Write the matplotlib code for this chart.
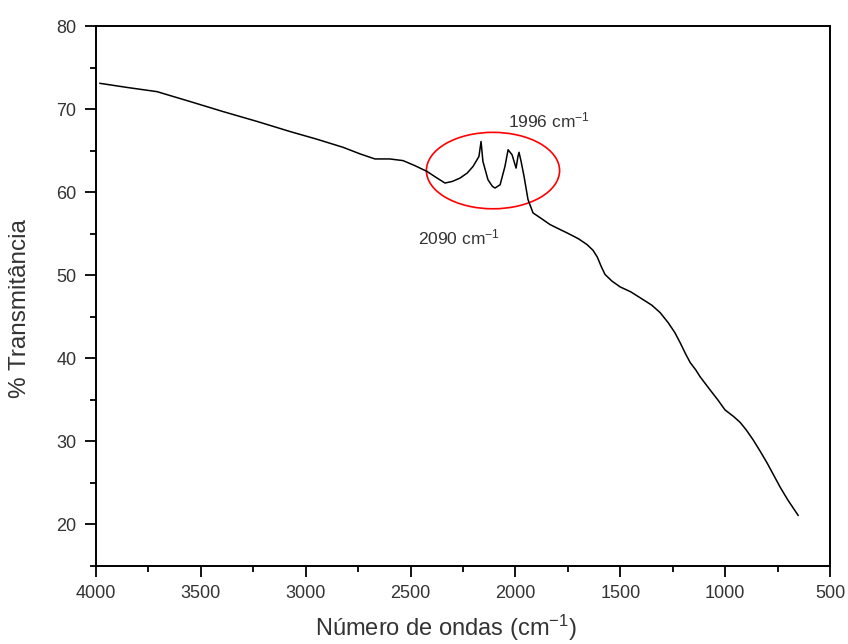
import matplotlib
matplotlib.use("Agg")
import matplotlib.pyplot as plt
from matplotlib.patches import Ellipse
from matplotlib.ticker import MultipleLocator

plt.rcParams["font.family"] = ["Liberation Sans", "DejaVu Sans"]
plt.rcParams["mathtext.default"] = "regular"

# IR spectrum (wavenumber cm-1, % transmittance)
wavenumber = [3981, 3850, 3709, 3550, 3394, 3230, 3075, 2950, 2822, 2740, 2670,
              2600, 2536, 2480, 2422, 2380, 2336, 2300, 2264, 2230, 2202,
              2174, 2164, 2155, 2131, 2110, 2097, 2073, 2050, 2035, 2016,
              1997, 1988, 1983, 1973, 1959, 1940, 1916, 1875, 1835, 1795, 1754,
              1700, 1659, 1630, 1610, 1590, 1573, 1540, 1501, 1450, 1406, 1350,
              1310, 1272, 1240, 1215, 1190, 1167, 1140, 1120, 1072, 1035, 1001,
              960, 929, 900, 867, 835, 800, 770, 738, 700, 652]
transmittance = [73.1, 72.6, 72.1, 70.9, 69.7, 68.5, 67.3, 66.4, 65.4, 64.6, 64.0,
                 64.0, 63.8, 63.2, 62.5, 61.8, 61.1, 61.3, 61.7, 62.3, 63.1,
                 64.3, 66.1, 63.7, 61.5, 60.7, 60.5, 60.9, 63.1, 65.1, 64.5,
                 62.9, 64.3, 64.8, 63.7, 61.9, 59.1, 57.5, 56.8, 56.1, 55.6, 55.1,
                 54.4, 53.7, 53.0, 52.2, 51.0, 50.1, 49.3, 48.6, 48.0, 47.3, 46.4,
                 45.5, 44.3, 43.1, 41.9, 40.6, 39.5, 38.6, 37.8, 36.2, 35.0, 33.8,
                 33.0, 32.3, 31.4, 30.2, 28.9, 27.4, 26.0, 24.5, 22.9, 21.1]

labels = ["1996 cm$^{-1}$", "2090 cm$^{-1}$"]
label_pos = [(2035, 68.6), (2464, 54.6)]

fig = plt.figure(figsize=(8.48, 6.44), dpi=100)
ax = fig.add_axes([0.1132, 0.1211, 0.8656, 0.8385])

ax.plot(wavenumber, transmittance, color="black", lw=1.1)

# circle around the carbonyl bands
ax.add_patch(Ellipse((2107, 62.6), 635, 9.2, fill=False, edgecolor="red", lw=1.2))

for txt, (x, y) in zip(labels, label_pos):
    ax.text(x, y, txt, fontsize=12.5, color="#333333", ha="left", va="center")

ax.set_xlim(4000, 500)
ax.set_ylim(15, 80)
ax.xaxis.set_major_locator(MultipleLocator(500))
ax.xaxis.set_minor_locator(MultipleLocator(250))
ax.yaxis.set_minor_locator(MultipleLocator(5))
ax.set_yticks(range(20, 81, 10))

ax.tick_params(which="major", direction="out", length=8, width=1.3, pad=6,
               labelsize=13, labelcolor="#333333", top=False, right=False)
ax.tick_params(which="minor", direction="out", length=4.5, width=1.3,
               top=False, right=False)
for s in ax.spines.values():
    s.set_linewidth(1.4)

ax.set_xlabel("Número de ondas (cm$^{-1}$)", fontsize=17, color="#333333")
ax.set_ylabel("% Transmitância", fontsize=17.5, color="#333333")
ax.xaxis.set_label_coords(0.477, -0.086)
ax.yaxis.set_label_coords(-0.089, 0.476)

fig.savefig("out.png", dpi=100)
